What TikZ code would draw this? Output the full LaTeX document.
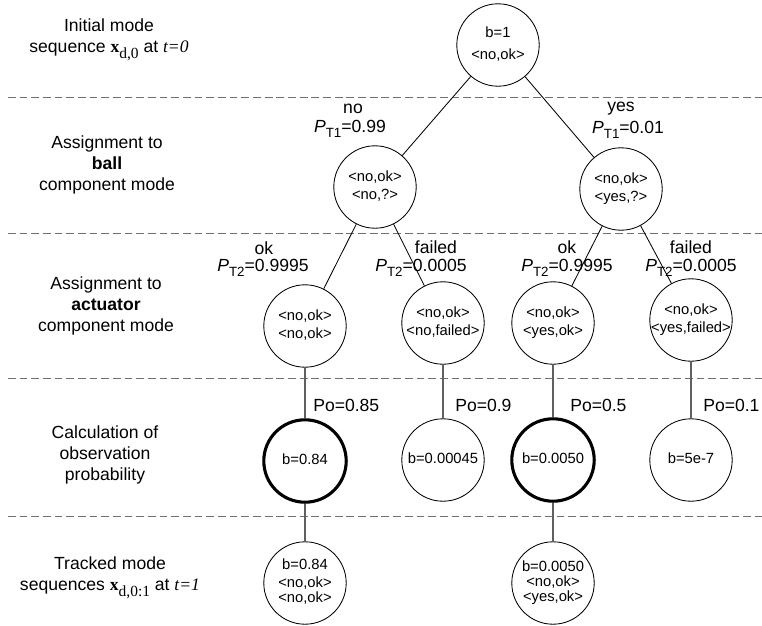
\documentclass[tikz,border=0pt]{standalone}
\usepackage{fontspec}
\setmainfont{Liberation Sans}
\newfontfamily\tms{Liberation Serif}
\newcommand\Pt[1]{\textit{P}\raisebox{-0.6ex}{\fontsize{9.5}{9.5}\selectfont #1}}
\newcommand\ctext[1]{\makebox[0pt]{\begin{tabular}{@{}c@{}}#1\end{tabular}}}
\definecolor{sepgray}{HTML}{707070}
\definecolor{linegray}{HTML}{606060}
\begin{document}
\begin{tikzpicture}[x=0.025cm,y=-0.025cm,
  st/.style={circle,draw,line width=0.6pt,minimum size=2.06cm,inner sep=0pt,
    font=\fontsize{10.5}{12.5}\selectfont},
  sel/.style={line width=2.2pt},
  lbl/.style={font=\fontsize{12.5}{15}\selectfont,align=center,inner sep=0pt},
  edge/.style={line width=0.6pt},
  vedge/.style={line width=0.8pt,draw=linegray},
  sep/.style={draw=sepgray,line width=0.7pt,dash pattern=on 5.5pt off 2.8pt}]
\useasboundingbox (0,0) rectangle (762,625);

% separators
\draw[sep] (8,97) -- (762,97);
\draw[sep] (8,233) -- (762,233);
\draw[sep] (8,378) -- (762,378);
\draw[sep] (8,516) -- (762,516);

% left labels
\node[lbl] (l0) at (109,40) {Initial mode\\sequence {\tms\bfseries x}\raisebox{-0.7ex}{\tms\fontsize{11}{11}\selectfont d,0} at {\tms\itshape t=0}};
\node[lbl] (l1) at (107,165) {Assignment to\\\textbf{ball}\\component mode};
\node[lbl] (l2) at (106,306) {Assignment to\\\textbf{actuator}\\component mode};
\node[lbl] (l3) at (105,455) {Calculation of\\observation\\probability};
\node[lbl] (l4) at (110,578) {Tracked mode\\sequences {\tms\bfseries x}\raisebox{-0.7ex}{\tms\fontsize{11}{11}\selectfont d,0:1} at {\tms\itshape t=1}};

% tree nodes
\node[st] (root) at (498,45) {\ctext{b=1\\[3pt]<no,ok>}};
\node[st] (bno) at (375,187) {\ctext{<no,ok>\\<no,?>}};
\node[st] (byes) at (621,189) {\ctext{<no,ok>\\<yes,?>}};
\node[st] (a1) at (305,326) {\ctext{<no,ok>\\<no,ok>}};
\node[st] (a2) at (443,323) {\ctext{<no,ok>\\<no,failed>}};
\node[st] (a3) at (553,323) {\ctext{<no,ok>\\<yes,ok>}};
\node[st] (a4) at (691,320) {\ctext{<no,ok>\\<yes,failed>}};
\node[st,sel] (o1) at (305,461) {\ctext{b=0.84}};
\node[st] (o2) at (443,460) {\ctext{b=0.00045}};
\node[st,sel] (o3) at (553,460) {\ctext{b=0.0050}};
\node[st] (o4) at (691,460) {\ctext{b=5e-7}};
\node[st,font=\fontsize{10.5}{10.7}\selectfont] (t1) at (305,583) {\ctext{b=0.84\\[2pt]<no,ok>\\<no,ok>}};
\node[st,font=\fontsize{10.5}{10.5}\selectfont] (t2) at (553,583) {\ctext{b=0.0050\\<no,ok>\\<yes,ok>}};

% connectors
\draw[edge] (root) -- (bno);
\draw[edge] (root) -- (byes);
\draw[edge] (bno) -- (a1);
\draw[edge] (bno) -- (a2);
\draw[edge] (byes) -- (a3);
\draw[edge] (byes) -- (a4);
\draw[vedge] (a1) -- (o1);
\draw[vedge] (a2) -- (o2);
\draw[vedge] (a3) -- (o3);
\draw[vedge] (a4) -- (o4);
\draw[vedge] (o1) -- (t1);
\draw[vedge] (o3) -- (t2);

% edge labels
\node[lbl] (tno) at (353,109) {no};
\node[lbl] (pno) at (350,129) {\Pt{T1}=0.99};
\node[lbl] (tyes) at (621,109) {yes};
\node[lbl] (pyes) at (628,130) {\Pt{T1}=0.01};
\node[lbl] (tok1) at (264,248) {ok};
\node[lbl] (pok1) at (263,268) {\Pt{T2}=0.9995};
\node[lbl] (tf2) at (436,247) {failed};
\node[lbl] (pf2) at (421,268) {\Pt{T2}=0.0005};
\node[lbl] (tok3) at (567,247) {ok};
\node[lbl] (pok3) at (567,268) {\Pt{T2}=0.9995};
\node[lbl] (tf4) at (691,247) {failed};
\node[lbl] (pf4) at (691,268) {\Pt{T2}=0.0005};
\node[lbl,anchor=west] (po1) at (313,405) {Po=0.85};
\node[lbl,anchor=west] (po2) at (455,405) {Po=0.9};
\node[lbl,anchor=west] (po3) at (570,405) {Po=0.5};
\node[lbl,anchor=west] (po4) at (703,405) {Po=0.1};
\end{tikzpicture}
\end{document}
